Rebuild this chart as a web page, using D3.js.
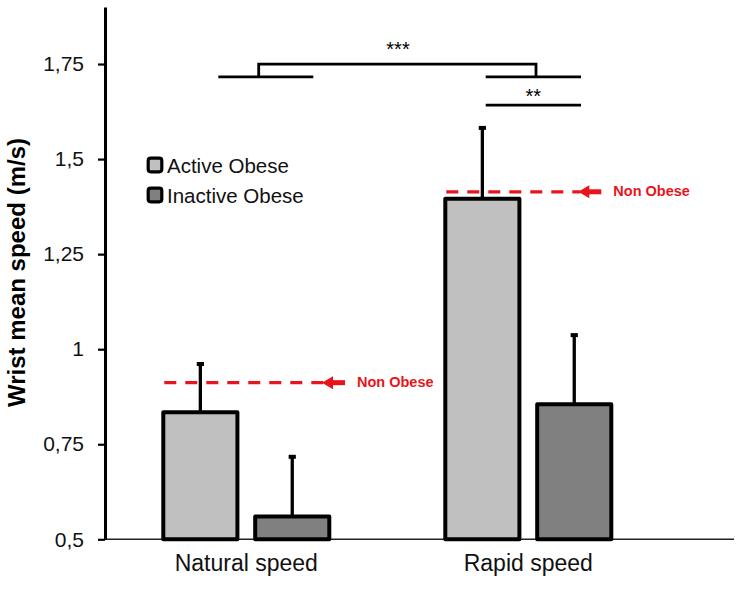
<!DOCTYPE html>
<html>
<head>
<meta charset="utf-8">
<script src="https://cdn.jsdelivr.net/npm/d3@7"></script>
<style>
  html, body { margin: 0; padding: 0; background: #fff; }
  text { font-family: "Liberation Sans", Arial, sans-serif; }
</style>
</head>
<body>
<svg id="chart" width="741" height="594"></svg>
<script>
// ---- data ----
const categories = ["Natural speed", "Rapid speed"];
const series = ["Active Obese", "Inactive Obese"];
const activeMeans = [0.834, 1.396];
const inactiveMeans = [0.56, 0.855];
const activeSD = [0.127, 0.186];
const inactiveSD = [0.157, 0.182];
const nonObese = [0.912, 1.414];
const tickValues = [0.5, 0.75, 1, 1.25, 1.5, 1.75];
const tickLabels = ["0,5", "0,75", "1", "1,25", "1,5", "1,75"];
const sigLabels = ["***", "**"];
const sigLevels = [1.75, 1.716, 1.642];
const yTitle = "Wrist mean speed (m/s)";
const refLabel = "Non Obese";

// ---- layout ----
const svg = d3.select("#chart");
const axisX = 105, axisBottom = 539.3, axisTop = 7, axisRight = 734;
const fills = ["#c0c0c0", "#808080"];
const red = "#e8141c";

const y = d3.scaleLinear().domain([0.5, 1.9]).range([axisBottom, axisTop]);
const x0 = d3.scaleBand().domain(categories).range([axisX + 0.3, 669.3]).padding(0);
const x1 = d3.scaleBand().domain(series).range([-85, 85]).paddingInner(0.15);
const cx = c => x0(c) + x0.bandwidth() / 2;

const rows = [];
categories.forEach((c, i) => {
  rows.push({cat: c, s: series[0], mean: activeMeans[i], sd: activeSD[i], fill: fills[0]});
  rows.push({cat: c, s: series[1], mean: inactiveMeans[i], sd: inactiveSD[i], fill: fills[1]});
});
const barCenter = d => cx(d.cat) + x1(d.s) + x1.bandwidth() / 2;

// x axis baseline
svg.append("line")
  .attr("x1", axisX).attr("x2", axisRight)
  .attr("y1", axisBottom).attr("y2", axisBottom)
  .attr("stroke", "#222").attr("stroke-width", 1.6);

// error bars (behind bars)
const eb = svg.append("g");
eb.selectAll("line").data(rows).join("line")
  .attr("x1", barCenter).attr("x2", barCenter)
  .attr("y1", d => y(d.mean)).attr("y2", d => y(d.mean + d.sd))
  .attr("stroke", "#000").attr("stroke-width", 3.3);
eb.selectAll("rect").data(rows).join("rect")
  .attr("x", d => barCenter(d) - 3.6).attr("width", 7.2)
  .attr("y", d => y(d.mean + d.sd) - 2).attr("height", 4)
  .attr("fill", "#000");

// bars
svg.append("g").selectAll("rect").data(rows).join("rect")
  .attr("x", d => cx(d.cat) + x1(d.s) + 2)
  .attr("width", x1.bandwidth() - 4)
  .attr("y", d => y(d.mean))
  .attr("height", d => y(0.5) - y(d.mean))
  .attr("fill", d => d.fill)
  .attr("stroke", "#000").attr("stroke-width", 4)
  .attr("stroke-linejoin", "round");

// y axis
const yAxis = d3.axisLeft(y).tickValues(tickValues)
  .tickFormat((d, i) => tickLabels[i]).tickSizeOuter(0).tickSizeInner(7).tickPadding(14);
const gy = svg.append("g").attr("transform", `translate(${axisX},0)`).call(yAxis);
gy.select(".domain").attr("stroke", "#000").attr("stroke-width", 3);
gy.selectAll(".tick line").attr("stroke", "#000").attr("stroke-width", 2.2);
gy.selectAll(".tick text").attr("font-size", 21).attr("fill", "#111")
  .attr("font-family", "'Liberation Sans', Arial, sans-serif");

// y title
svg.append("text")
  .attr("transform", `translate(25,272.5) rotate(-90)`)
  .attr("text-anchor", "middle")
  .attr("font-size", 24).attr("font-weight", "bold").attr("fill", "#000")
  .text(yTitle);

// x labels
svg.append("g").selectAll("text").data(categories).join("text")
  .attr("x", d => cx(d)).attr("y", 571)
  .attr("text-anchor", "middle").attr("font-size", 23).attr("fill", "#111")
  .text(d => d);

// Non obese reference lines with arrows
const arrowTipOffset = [75.7, 50];
categories.forEach((c, i) => {
  const yy = y(nonObese[i]);
  const startX = cx(c) + x1(series[0]) + 3;
  const tip = cx(c) + arrowTipOffset[i];
  svg.append("line")
    .attr("x1", startX).attr("x2", tip + 2)
    .attr("y1", yy).attr("y2", yy)
    .attr("stroke", red).attr("stroke-width", 3.3)
    .attr("stroke-dasharray", "12,9");
  svg.append("path")
    .attr("d", `M${tip},${yy} L${tip + 11},${yy - 6.5} L${tip + 11},${yy + 6.5} Z`)
    .attr("fill", red);
  svg.append("rect")
    .attr("x", tip + 10).attr("y", yy - 2.5).attr("width", 13).attr("height", 5)
    .attr("fill", red);
  svg.append("text")
    .attr("x", tip + 35).attr("y", yy + 4.5)
    .attr("font-size", 14.5).attr("font-weight", "bold").attr("fill", red)
    .text(refLabel);
});

// significance brackets
const c0 = cx(categories[0]), c1 = cx(categories[1]);
const yTop = y(sigLevels[0]), yLow = y(sigLevels[1]), ySig2 = y(sigLevels[2]);
const br = svg.append("g").attr("stroke", "#000").attr("stroke-width", 2.8).attr("fill", "none");
br.append("line").attr("x1", c0 - 28).attr("x2", c0 + 67).attr("y1", yLow).attr("y2", yLow);
br.append("path").attr("d", `M${c0 + 12.4},${yLow} V${yTop} H${c1 + 7.7} V${yLow}`);
br.append("line").attr("x1", c1 - 42.6).attr("x2", c1 + 52.7).attr("y1", yLow).attr("y2", yLow);
br.append("line").attr("x1", c1 - 42.6).attr("x2", c1 + 52.7).attr("y1", ySig2).attr("y2", ySig2);
svg.append("text").attr("x", (c0 + c1) / 2 + 10.7).attr("y", yTop - 8)
  .attr("text-anchor", "middle").attr("font-size", 20).attr("fill", "#000").text(sigLabels[0]);
svg.append("text").attr("x", c1 + 5).attr("y", ySig2 - 2)
  .attr("text-anchor", "middle").attr("font-size", 20).attr("fill", "#000").text(sigLabels[1]);

// legend
const lg = svg.append("g");
series.forEach((s, i) => {
  const by = 173.3 + i * 30;
  lg.append("rect")
    .attr("x", 148.2).attr("y", by - 15.1).attr("width", 13.6).attr("height", 13.6)
    .attr("rx", 2.5).attr("fill", fills[i]).attr("stroke", "#000").attr("stroke-width", 3.2);
  lg.append("text").attr("x", 167).attr("y", by)
    .attr("font-size", 20.5).attr("fill", "#111").text(s);
});
</script>
</body>
</html>
